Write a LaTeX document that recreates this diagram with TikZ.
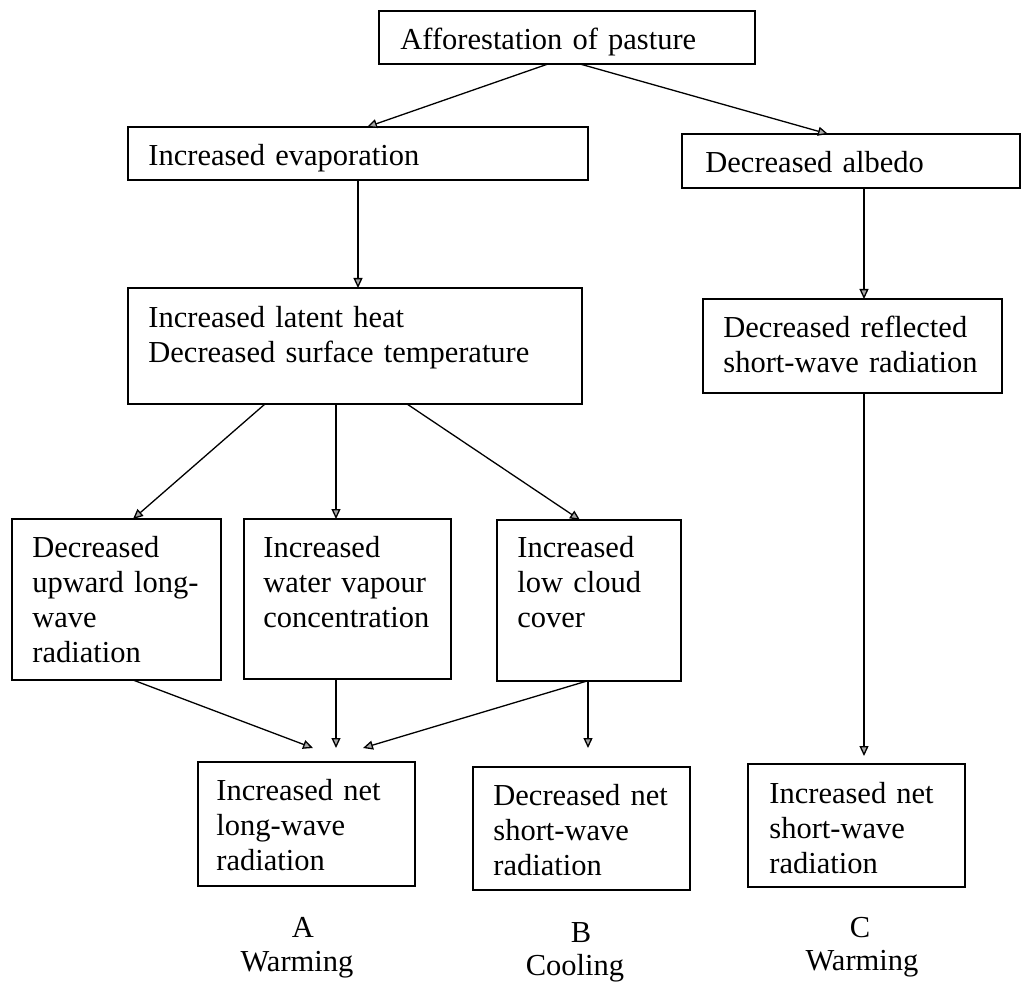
\documentclass[tikz,border=0pt]{standalone}
\usepackage{fontspec}
\setmainfont{Liberation Serif}
\usetikzlibrary{arrows.meta,calc}
\begin{document}
\begin{tikzpicture}[x=0.5pt,y=-0.5pt,
  font=\fontsize{15.25pt}{17.5pt}\selectfont,
  box/.style={draw, line width=1pt, inner sep=0pt, outer sep=0pt, anchor=north west},
  txt/.style={anchor=base west, align=left, inner sep=0pt, text width=200pt},
  lab/.style={anchor=base, inner sep=0pt},
  arr/.style={line width=0.65pt, -{Triangle[length=5pt,width=4.5pt,fill=gray!70]}}]
\useasboundingbox (0,0) rectangle (1021,983);
% boxes
\node[box, minimum width=188pt, minimum height=26.5pt] (top) at (379,11) {};
\node[box, minimum width=230pt, minimum height=26.5pt] (evap) at (128,127) {};
\node[box, minimum width=169pt, minimum height=27pt] (albedo) at (682,134) {};
\node[box, minimum width=227pt, minimum height=58pt] (latent) at (128,288) {};
\node[box, minimum width=149.5pt, minimum height=47pt] (refl) at (703,299) {};
\node[box, minimum width=104.5pt, minimum height=80.5pt] (dec) at (12,519) {};
\node[box, minimum width=103.5pt, minimum height=80pt] (water) at (244,519) {};
\node[box, minimum width=92pt, minimum height=80.5pt] (cloud) at (497,520) {};
\node[box, minimum width=108.5pt, minimum height=62pt] (lw) at (198,762) {};
\node[box, minimum width=108.5pt, minimum height=61.5pt] (sb) at (473,767) {};
\node[box, minimum width=108.5pt, minimum height=61.5pt] (sc) at (748,764) {};
% texts
\node[txt] (ttop) at (400,50) {Afforestation of pasture};
\node[txt] (tevap) at (148,166) {Increased evaporation};
\node[txt] (talb) at (705,173) {Decreased albedo};
\node[txt] (tlat) at (148,328) {Increased latent heat\\Decreased surface temperature};
\node[txt] (trefl) at (723,338) {Decreased reflected\\short-wave radiation};
\node[txt] (tdec) at (32,557) {Decreased\\upward long-\\wave\\radiation};
\node[txt] (twat) at (263,557) {Increased\\water vapour\\concentration};
\node[txt] (tcld) at (517,557) {Increased\\low cloud\\cover};
\node[txt] (tlw) at (216,800) {Increased net\\long-wave\\radiation};
\node[txt] (tsb) at (493,805) {Decreased net\\short-wave\\radiation};
\node[txt] (tsc) at (769,803) {Increased net\\short-wave\\radiation};
\node[lab] (la) at (303,937) {A};
\node[lab] (lwa) at (297,971) {Warming};
\node[lab] (lb) at (581,942) {B};
\node[lab] (lco) at (575,975) {Cooling};
\node[lab] (lc) at (860,937) {C};
\node[lab] (lwc) at (862,970) {Warming};
% connectors
\draw[arr] ($(top.south west)+(169,0)$) -- ($(evap.north west)+(239,0)$);
\draw[arr] ($(top.south west)+(201,0)$) -- ($(albedo.north west)+(146,0)$);
\draw[arr] ($(evap.south west)+(230,0)$) -- ($(latent.north west)+(230,0)$);
\draw[arr] ($(albedo.south west)+(182,0)$) -- ($(refl.north west)+(161,0)$);
\draw[arr] ($(latent.south west)+(137,0)$) -- ($(dec.north west)+(121,0)$);
\draw[arr] ($(latent.south west)+(208,0)$) -- ($(water.north west)+(92,0)$);
\draw[arr] ($(latent.south west)+(279,0)$) -- ($(cloud.north west)+(83,0)$);
\draw[arr] ($(refl.south west)+(161,0)$) -- ($(sc.north west)+(116,-8)$);
\draw[arr] ($(dec.south west)+(121,0)$) -- ($(lw.north west)+(115,-14)$);
\draw[arr] ($(water.south west)+(92,0)$) -- ($(lw.north west)+(138,-14)$);
\draw[arr] ($(cloud.south west)+(90,0)$) -- ($(lw.north west)+(165,-14)$);
\draw[arr] ($(cloud.south west)+(91,0)$) -- ($(sb.north west)+(115,-19)$);
\end{tikzpicture}
\end{document}
